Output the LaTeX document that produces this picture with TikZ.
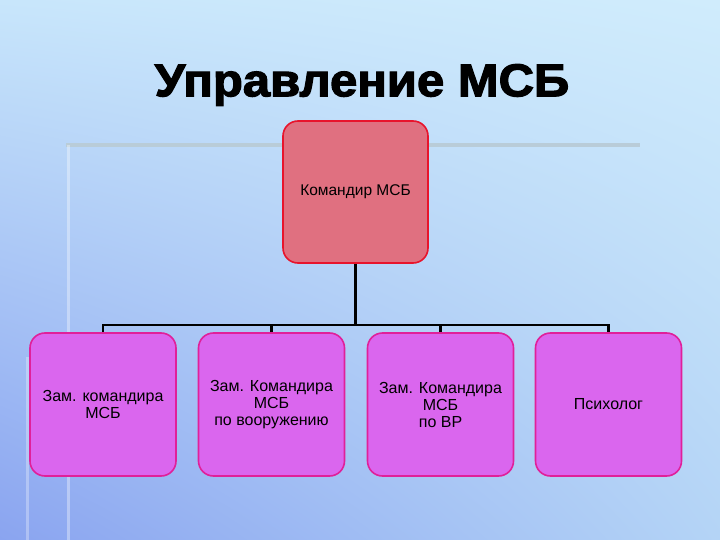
\documentclass[tikz,border=0pt]{standalone}
\usepackage{fontspec}
\setmainfont{Liberation Sans}
\newfontfamily\titlefont[FakeBold=2.5]{Liberation Sans Bold}
\usetikzlibrary{shadings}
\definecolor{topfill}{HTML}{E07080}
\definecolor{topdraw}{HTML}{E8142C}
\definecolor{subfill}{HTML}{DA66EE}
\definecolor{subdraw}{HTML}{E0209A}
\definecolor{deco}{HTML}{B9CCD8}
\definecolor{bgul}{RGB}{200,230,251}
\definecolor{bgur}{RGB}{208,236,252}
\definecolor{bgll}{RGB}{138,164,240}
\definecolor{bglr}{RGB}{180,212,246}
\tikzset{
  boss/.style={draw=topdraw, fill=topfill, line width=1.6pt, rounded corners=15pt, minimum width=145pt, minimum height=142pt, align=center, font=\fontsize{15.5}{17}\selectfont, inner sep=0pt},
  sub/.style={draw=subdraw, fill=subfill, line width=1.6pt, rounded corners=15pt, minimum width=146pt, minimum height=143pt, align=center, font=\fontsize{16}{17}\selectfont, inner sep=0pt},
  link/.style={line width=2.4pt, black},
}
\begin{document}
\begin{tikzpicture}[x=1pt,y=-1pt]
\useasboundingbox (0,0) rectangle (720,540);
\shade[upper left=bgul, upper right=bgur, lower left=bgll, lower right=bglr]
  (0,0) rectangle (720,540);
% decorative lines
\draw[line width=4pt, deco] (66,145) -- (640,145);
\draw[line width=3pt, white, opacity=0.35] (68,145) -- (68,540);
\draw[line width=3pt, white, opacity=0.3] (27,357) -- (27,540);
% title
\node[xscale=1.065] (title) at (362,85) {\fontsize{46}{50}\selectfont\titlefont Управление МСБ};
% boxes
\node[boss] (boss) at (355.5,192) {Командир МСБ};
\node[sub] (s1) at (103,404.5) {Зам. командира\\МСБ};
\node[sub] (s2) at (271.5,404.5) {Зам. Командира\\МСБ\\по вооружению};
\node[sub] (s3) at (440.5,404.5) {Зам. Командира\\МСБ\\по ВР};
\node[sub] (s4) at (608.5,404.5) {Психолог};
% connectors
\coordinate (bus) at (355.5,325);
\draw[link] (boss.south) -- (bus);
\draw[link] (s1.north) -- (s1.north |- bus) -- (s4.north |- bus) -- (s4.north);
\draw[link] (s2.north) -- (s2.north |- bus);
\draw[link] (s3.north) -- (s3.north |- bus);
\end{tikzpicture}
\end{document}
